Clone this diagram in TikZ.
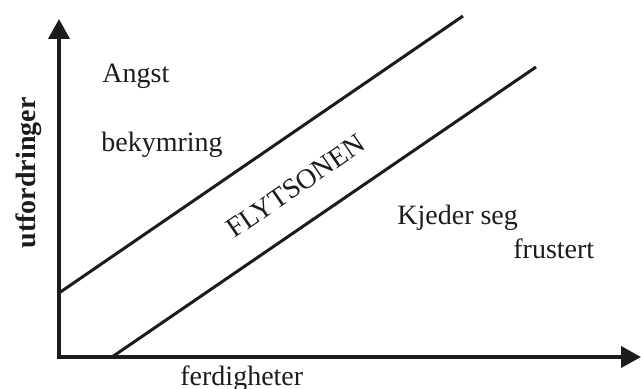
\documentclass[tikz,border=0pt]{standalone}
\usepackage{fontspec}
\setmainfont{Liberation Serif}
\usetikzlibrary{
  arrows.meta,
  positioning
}
\definecolor{InkBlack}{RGB}{28,28,28}
\tikzset{
  axisline/.style={line width=2pt,draw=InkBlack,line cap=rect,-{Triangle[length=10pt,width=10.5pt]}},
  zoneline/.style={line width=1.5pt,draw=InkBlack},
  zonetext/.style={font=\fontsize{14}{16}\selectfont,text=InkBlack,inner sep=0pt},
  axistext/.style={zonetext,anchor=base west}
}

\begin{document}
\begin{tikzpicture}[x=0.5pt,y=-0.5pt]
\useasboundingbox (0,0) rectangle (641,389);
\coordinate (origin) at (59,357);
\coordinate (ytip) at (59,19);
\coordinate (xtip) at (641,357);
\coordinate (upperstart) at (59,293);
\coordinate (upperend) at (463,16);
\coordinate (lowerstart) at (112,357);
\coordinate (lowerend) at (536,67);

\draw[axisline] (origin) -- (ytip);
\draw[axisline] (origin) -- (xtip);
\draw[zoneline] (upperstart) -- (upperend);
\draw[zoneline] (lowerstart) -- (lowerend);

\node[axistext] (angst) at (102,83) {Angst};
\node[axistext] (bekymring) at (101,152) {bekymring};
\node[axistext] (kjeder) at (397,225) {Kjeder seg};
\node[axistext] (frustert) at (513,259) {frustert};
\node[zonetext,rotate=34.4] (flyt) at (296,186) {FLYTSONEN};
\node[axistext] (ferdig) at (180,385) {ferdigheter};
\node[zonetext,font=\fontsize{14}{16}\selectfont\bfseries,rotate=90] (utford) at (29,173) {utfordringer};
\end{tikzpicture}
\end{document}
